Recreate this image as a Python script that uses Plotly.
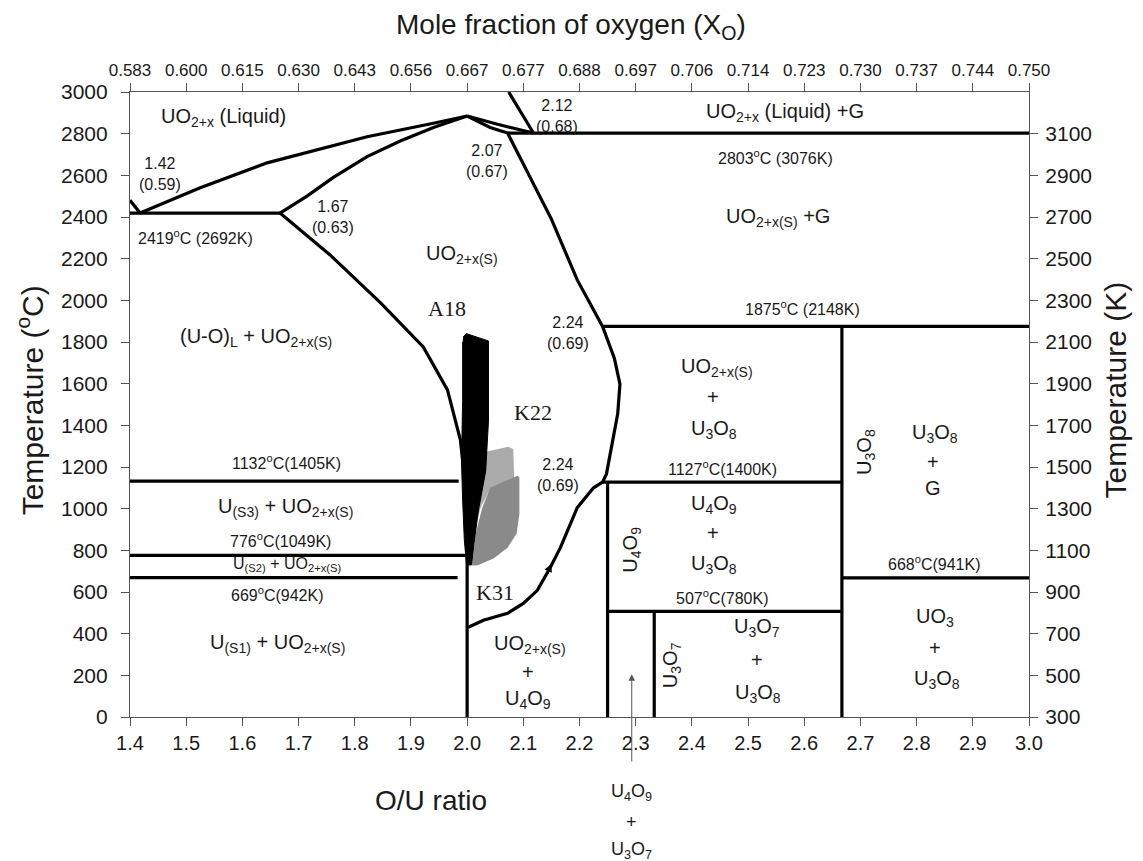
import plotly.graph_objects as go

SANS = "Liberation Sans, Arial, sans-serif"
SERIF = "Liberation Serif, Times New Roman, serif"

# ---- axes tick data ----
ou_ticks = [1.4, 1.5, 1.6, 1.7, 1.8, 1.9, 2.0, 2.1, 2.2, 2.3, 2.4, 2.5, 2.6, 2.7, 2.8, 2.9, 3.0]
ou_labels = ["1.4", "1.5", "1.6", "1.7", "1.8", "1.9", "2.0", "2.1", "2.2", "2.3", "2.4",
             "2.5", "2.6", "2.7", "2.8", "2.9", "3.0"]
xo_labels = ["0.583", "0.600", "0.615", "0.630", "0.643", "0.656", "0.667", "0.677", "0.688",
             "0.697", "0.706", "0.714", "0.723", "0.730", "0.737", "0.744", "0.750"]
tc_ticks = [0, 200, 400, 600, 800, 1000, 1200, 1400, 1600, 1800, 2000, 2200, 2400, 2600, 2800, 3000]
k_tick_pos = [0, 200, 400, 600, 800, 1000, 1200, 1400, 1600, 1800, 2000, 2200, 2400, 2600, 2800]
k_labels = ["300", "500", "700", "900", "1100", "1300", "1500", "1700", "1900", "2100",
            "2300", "2500", "2700", "2900", "3100"]

# ---- phase boundaries (O/U ratio, temperature degC) ----
liqL_x = [1.418, 1.525, 1.644, 1.822, 1.940, 2.0]
liqL_T = [2419, 2540, 2660, 2785, 2850, 2885]

solL_x = [1.667, 1.715, 1.762, 1.822, 1.881, 1.940, 2.0]
solL_T = [2419, 2500, 2590, 2690, 2765, 2830, 2885]

edge_x = [1.40, 1.418]
edge_T = [2480, 2419]

liqR_x = [2.0, 2.054, 2.118]
liqR_T = [2885, 2845, 2803]

gas_x = [2.074, 2.118]
gas_T = [3000, 2803]

solR_x = [2.0, 2.041, 2.072, 2.15, 2.196, 2.241, 2.262, 2.272, 2.268, 2.256, 2.248, 2.241,
          2.225, 2.196, 2.166, 2.148, 2.125, 2.100, 2.072, 2.029, 2.002]
solR_T = [2885, 2830, 2803, 2390, 2098, 1875, 1722, 1598, 1455, 1292, 1167, 1127,
          1100, 1005, 813, 718, 608, 545, 498, 464, 431]

mono_x = [1.667, 1.756, 1.846, 1.922, 1.965, 1.988, 1.997]
mono_T = [2419, 2218, 1988, 1776, 1570, 1330, 1104]

# isotherms
h_T = [2419, 2803, 1875, 1132, 1127, 776, 669, 668, 507]
h_x0 = [1.40, 2.072, 2.241, 1.40, 2.241, 1.40, 1.40, 2.667, 2.25]
h_x1 = [1.667, 3.0, 3.0, 1.985, 2.667, 2.0, 1.983, 3.0, 2.667]
# line compounds (UO2, U4O9, U3O7, U3O8)
v_x = [2.0, 2.25, 2.333, 2.667]
v_T0 = [0, 0, 0, 0]
v_T1 = [1100, 1127, 507, 1875]

# ---- experimental regions ----
a18_x = [1.993, 1.999, 2.038, 2.038, 2.033, 2.020, 2.013, 2.008, 1.999, 1.995, 1.992, 1.990, 1.992, 1.992]
a18_T = [1825, 1840, 1805, 1420, 1180, 990, 850, 730, 730, 850, 1040, 1230, 1520, 1800]

k22_x = [2.034, 2.073, 2.082, 2.084, 2.041, 2.024, 2.015, 2.009, 2.008, 2.004, 2.009, 2.020, 2.027]
k22_T = [1273, 1297, 1287, 1148, 1096, 1005, 909, 813, 737, 727, 976, 1134, 1230]

k31_x = [2.041, 2.090, 2.093, 2.093, 2.088, 2.072, 2.047, 2.018, 2.009, 2.015, 2.027]
k31_T = [1100, 1158, 1148, 976, 880, 813, 761, 727, 727, 880, 1005]

fig = go.Figure()

fig.add_trace(go.Scatter(x=k22_x, y=k22_T, fill="toself", fillcolor="#ababab",
                         line=dict(width=0, color="#ababab"), mode="lines", hoverinfo="skip"))
fig.add_trace(go.Scatter(x=k31_x, y=k31_T, fill="toself", fillcolor="#8a8a8a",
                         line=dict(width=0, color="#8a8a8a"), mode="lines", hoverinfo="skip"))
fig.add_trace(go.Scatter(x=a18_x, y=a18_T, fill="toself", fillcolor="black",
                         line=dict(width=1, color="black"), mode="lines", hoverinfo="skip"))

LW = 3.2
for xs, ys in [(liqL_x, liqL_T), (solL_x, solL_T), (edge_x, edge_T), (liqR_x, liqR_T),
               (gas_x, gas_T), (solR_x, solR_T), (mono_x, mono_T)]:
    fig.add_trace(go.Scatter(x=xs, y=ys, mode="lines", line=dict(color="black", width=LW),
                             hoverinfo="skip"))

seg_x, seg_y = [], []
for t, a, b in zip(h_T, h_x0, h_x1):
    seg_x += [a, b, None]
    seg_y += [t, t, None]
for x, t0, t1 in zip(v_x, v_T0, v_T1):
    seg_x += [x, x, None]
    seg_y += [t0, t1, None]
fig.add_trace(go.Scatter(x=seg_x, y=seg_y, mode="lines", line=dict(color="black", width=LW),
                         hoverinfo="skip"))

# invisible trace for secondary axes
fig.add_trace(go.Scatter(x=[1.4], y=[0], xaxis="x2", yaxis="y2", mode="markers",
                         marker=dict(opacity=0), hoverinfo="skip"))

anns = []


def lab(text, x, y, size=20, family=SANS, angle=0, xref="x", yref="y", color="#1a1a1a"):
    anns.append(dict(text=text, x=x, y=y, xref=xref, yref=yref, showarrow=False,
                     font=dict(size=size, family=family, color=color), textangle=angle,
                     xanchor="center", yanchor="middle"))


lab("UO<sub>2+x</sub> (Liquid)", 1.566, 2880)
lab("2.12<br>(0.68)", 2.160, 2885, 16)
lab("UO<sub>2+x</sub> (Liquid) +G", 2.566, 2900)
lab("1.42<br>(0.59)", 1.453, 2607, 16)
lab("2.07<br>(0.67)", 2.035, 2669, 16)
lab("2803<sup>o</sup>C (3076K)", 2.548, 2688, 16)
lab("2419<sup>o</sup>C (2692K)", 1.517, 2304, 16)
lab("1.67<br>(0.63)", 1.761, 2400, 16)
lab("UO<sub>2+x(S)</sub>", 1.991, 2218)
lab("UO<sub>2+x(S)</sub> +G", 2.553, 2400)
lab("A18", 1.964, 1960, 22, SERIF)
lab("1875<sup>o</sup>C (2148K)", 2.596, 1963, 16)
lab("2.24<br>(0.69)", 2.180, 1843, 16)
lab("(U-O)<sub>L</sub> + UO<sub>2+x(S)</sub>", 1.625, 1824)
lab("UO<sub>2+x(S)</sub>", 2.445, 1680)
lab("+", 2.438, 1536)
lab("U<sub>3</sub>O<sub>8</sub>", 2.44, 1378)
lab("K22", 2.117, 1464, 22, SERIF)
lab("U<sub>3</sub>O<sub>8</sub>", 2.708, 1272, angle=-90)
lab("U<sub>3</sub>O<sub>8</sub>", 2.832, 1363)
lab("+", 2.829, 1224)
lab("G", 2.829, 1099)
lab("1132<sup>o</sup>C(1405K)", 1.678, 1224, 16)
lab("2.24<br>(0.69)", 2.162, 1162, 16)
lab("1127<sup>o</sup>C(1400K)", 2.455, 1195, 16)
lab("U<sub>(S3)</sub> + UO<sub>2+x(S)</sub>", 1.676, 1008)
lab("U<sub>4</sub>O<sub>9</sub>", 2.44, 1018)
lab("+", 2.438, 883)
lab("U<sub>3</sub>O<sub>8</sub>", 2.44, 730)
lab("U<sub>4</sub>O<sub>9</sub>", 2.293, 802, angle=-90)
lab("776<sup>o</sup>C(1049K)", 1.667, 850, 16)
lab("U<sub>(S2)</sub> + UO<sub>2+x(S)</sub>", 1.679, 730, 16)
lab("669<sup>o</sup>C(942K)", 1.663, 590, 16)
lab("668<sup>o</sup>C(941K)", 2.832, 739, 16)
lab("K31", 2.050, 600, 22, SERIF)
lab("507<sup>o</sup>C(780K)", 2.455, 576, 16)
lab("UO<sub>3</sub>", 2.833, 480)
lab("+", 2.833, 331)
lab("U<sub>3</sub>O<sub>8</sub>", 2.836, 178)
lab("U<sub>3</sub>O<sub>7</sub>", 2.516, 432)
lab("+", 2.516, 274)
lab("U<sub>3</sub>O<sub>8</sub>", 2.518, 115)
lab("U<sub>3</sub>O<sub>7</sub>", 2.365, 250, angle=-90)
lab("U<sub>(S1)</sub> + UO<sub>2+x(S)</sub>", 1.662, 355)
lab("UO<sub>2+x(S)</sub>", 2.112, 346)
lab("+", 2.108, 216)
lab("U<sub>4</sub>O<sub>9</sub>", 2.108, 82)
# label below the axis
lab("U<sub>4</sub>O<sub>9</sub>", 2.293, -0.12, 18, yref="paper")
lab("+", 2.293, -0.168, 18, yref="paper")
lab("U<sub>3</sub>O<sub>7</sub>", 2.293, -0.213, 18, yref="paper")

# arrows
anns.append(dict(x=2.293, y=205, ax=2.293, ay=-220, xref="x", yref="y", axref="x", ayref="y",
                 text="", showarrow=True, arrowhead=2, arrowsize=1.3, arrowwidth=1,
                 arrowcolor="#555"))
anns.append(dict(x=2.150, y=735, ax=2.141, ay=680, xref="x", yref="y", axref="x", ayref="y",
                 text="", showarrow=True, arrowhead=2, arrowsize=0.8, arrowwidth=2,
                 arrowcolor="black"))

# axis titles
lab("Mole fraction of oxygen (X<sub>O</sub>)", 0.49, 1.104, 28, xref="paper", yref="paper")
lab("O/U ratio", 0.335, -0.133, 28, xref="paper", yref="paper")
lab("Temperature (<sup>o</sup>C)", -0.111, 0.507, 30, angle=-90, xref="paper", yref="paper")
lab("Temperature (K)", 1.096, 0.523, 30, angle=-90, xref="paper", yref="paper")

axcommon = dict(showgrid=False, zeroline=False, showline=True, linecolor="#555", linewidth=1.2,
                ticks="outside", ticklen=8, tickcolor="#555", tickwidth=1.2)

# page body has an 8px margin: figure sized so that the plot area lands where the reference's is
fig.update_layout(
    width=1135, height=853,
    margin=dict(l=122, r=114, t=84, b=144),
    plot_bgcolor="white", paper_bgcolor="white",
    showlegend=False,
    annotations=anns,
    xaxis=dict(range=[1.4, 3.0], tickmode="array", tickvals=ou_ticks, ticktext=ou_labels,
               tickfont=dict(size=20, family=SANS, color="#1a1a1a"), ticklabelstandoff=0,
               **axcommon),
    xaxis2=dict(range=[1.4, 3.0], overlaying="x", side="top", anchor="y", tickmode="array",
                tickvals=ou_ticks, ticktext=xo_labels,
                tickfont=dict(size=17, family=SANS, color="#1a1a1a"), **axcommon),
    yaxis=dict(range=[0, 3000], tickmode="array", tickvals=tc_ticks,
               tickfont=dict(size=21, family=SANS, color="#1a1a1a"), ticklabelstandoff=9,
               **axcommon),
    yaxis2=dict(range=[0, 3000], overlaying="y", side="right", anchor="x", tickmode="array",
                tickvals=k_tick_pos, ticktext=k_labels,
                tickfont=dict(size=21, family=SANS, color="#1a1a1a"), ticklabelstandoff=3,
                **axcommon),
)

fig.write_html("out.html")
